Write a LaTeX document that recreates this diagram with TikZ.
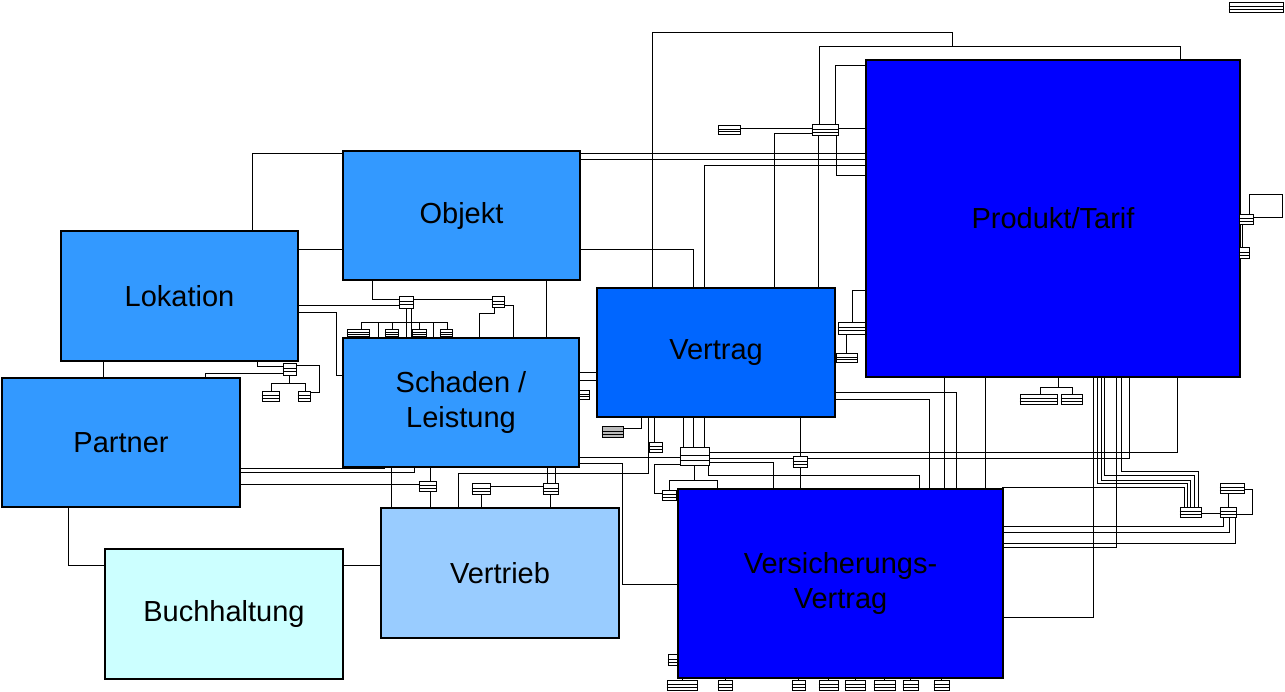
\documentclass[tikz,border=0pt]{standalone}
\usepackage{fontspec}
\setmainfont{Liberation Sans}
\usetikzlibrary{fit,calc}
\pgfdeclarelayer{bg}
\pgfsetlayers{bg,main}
\definecolor{cObj}{HTML}{3399FF}
\definecolor{cVer}{HTML}{0066FF}
\definecolor{cPro}{HTML}{0000FF}
\definecolor{cVtb}{HTML}{99CCFF}
\definecolor{cBuh}{HTML}{CCFFFF}
\definecolor{cGray}{HTML}{BBBBBB}
\tikzset{
  mainbox/.style={draw=black, line width=2pt, inner sep=0pt, anchor=north west, align=center, font=\fontsize{29}{35}\selectfont},
  conn/.style={draw=black, line width=0.9pt},
  clsbox/.style={draw=black, fill=white, line width=0.9pt, inner sep=0pt},
  clsline/.style={draw=black, line width=0.7pt},
}
\newcommand{\clsbx}[6][white]{%
  \node[clsbox, fill=#1, fit={(#3,#4)(#5,#6)}] (#2) {};
  \draw[clsline] ($(#2.north west)!0.45!(#2.south west)$) -- ($(#2.north east)!0.45!(#2.south east)$);
  \draw[clsline] ($(#2.north west)!0.72!(#2.south west)$) -- ($(#2.north east)!0.72!(#2.south east)$);
}
\begin{document}
\begin{tikzpicture}[x=1pt,y=-1pt]
\useasboundingbox (0,0) rectangle (1285,691);

% ---------- main boxes ----------
\node[mainbox, fill=cObj, minimum width=237pt, minimum height=130pt] (lok) at (60,230) {Lokation};
\node[mainbox, fill=cObj, minimum width=237pt, minimum height=129pt] (obj) at (342,150) {Objekt};
\node[mainbox, fill=cObj, minimum width=238pt, minimum height=129pt] (par) at (1,377) {Partner};
\node[mainbox, fill=cObj, minimum width=236pt, minimum height=129pt] (sch) at (342,337) {Schaden /\\Leistung};
\node[mainbox, fill=cVer, minimum width=238pt, minimum height=129pt] (ver) at (596,287) {Vertrag};
\node[mainbox, fill=cPro, minimum width=374pt, minimum height=317pt] (pro) at (865,59) {Produkt/Tarif};
\node[mainbox, fill=cPro, minimum width=325pt, minimum height=189pt] (vv) at (677,488) {Versicherungs-\\Vertrag};
\node[mainbox, fill=cVtb, minimum width=238pt, minimum height=130pt] (vtb) at (380,507) {Vertrieb};
\node[mainbox, fill=cBuh, minimum width=238pt, minimum height=130pt] (buh) at (104,548) {Buchhaltung};

% ---------- connectors ----------
\begin{pgfonlayer}{bg}
\draw[conn] (103,360) -- (103,377);
\draw[conn] (68,506) |- (104,565);
\draw[conn] (342,565) -- (380,565);
\draw[conn] (252,230) |- (342,153);
\draw[conn] (297,249) -- (342,249);
\draw[conn] (546,279) -- (546,337);
\draw[conn] (579,153) -- (865,153);
\draw[conn] (579,159) -- (865,159);
\draw[conn] (704,287) |- (865,165);
\draw[conn] (579,249) -| (693,287);
\draw[conn] (652,287) |- (952,32) -- (952,46);
\draw[conn] (819,124) |- (1180,46) -- (1180,59);
\draw[conn] (835,124) |- (865,65);
\draw[conn] (740,128) -- (812,128);
\draw[conn] (838,128) -- (865,128);
\draw[conn] (812,133) -| (774,287);
\draw[conn] (818,135) -- (818,287);
\draw[conn] (836,135) |- (865,175);
% Objekt / Schaden gap
\draw[conn] (372,279) |- (399,299);
\draw[conn] (297,305) -- (399,305);
\draw[conn] (413,299) -- (492,299);
\draw[conn] (406,308) -- (406,337);
\draw[conn] (411,308) -- (411,337);
\draw[conn] (361,322) -- (447,322);
\foreach \xx in {361,392,419,447} \draw[conn] (\xx,322) -- (\xx,329);
\draw[conn] (378,322) -- (378,337);
\draw[conn] (433,322) -- (433,337);
\draw[conn] (494,307) |- (479,313) -- (479,337);
\draw[conn] (504,305) -| (513,337);
% Lokation / Partner
\draw[conn] (257,360) |- (283,366);
\draw[conn] (205,377) |- (283,373);
\draw[conn] (296,365) -| (319,392) -- (310,392);
\draw[conn] (289,375) -- (289,383);
\draw[conn] (271,391) |- (305,383) -- (305,391);
\draw[conn] (297,312) -| (336,375) -- (342,375);
% Partner / Schaden / Vertrieb
\draw[conn] (239,468) -| (384,466);
\draw[conn] (239,472) -| (414,466);
\draw[conn] (239,484) -- (419,484);
\draw[conn] (430,466) -- (430,507);
\draw[conn] (391,466) -- (391,507);
\draw[conn] (481,494) -- (481,507);
\draw[conn] (490,486) -- (543,486);
\draw[conn] (547,466) -- (547,483);
\draw[conn] (555,466) -- (555,483);
\draw[conn] (550,494) -- (550,507);
\draw[conn] (458,507) |- (648,473) -- (648,416);
\draw[conn] (578,463) -| (622,584) -- (677,584);
\draw[conn] (578,457) -- (680,457);
\draw[conn] (680,464) -| (654,493) -- (662,493);
\foreach \xx in {683,693,704} \draw[conn] (\xx,416) -- (\xx,447);
\draw[conn] (694,465) -- (694,480);
\draw[conn] (669,490) |- (717,480) -- (717,488);
\draw[conn] (709,452) -| (1177,376);
\draw[conn] (709,458) -| (1129,376);
\draw[conn] (709,462) -| (773,488);
\draw[conn] (708,465) |- (919,475) -- (919,488);
\draw[conn] (654,416) -- (654,442);
\draw[conn] (623,428) -| (641,416);
\draw[conn] (800,416) -- (800,488);
\draw[conn] (852,322) |- (865,290);
\draw[conn] (846,334) -- (846,353);
\draw[conn] (834,392) -| (956,488);
\draw[conn] (834,399) -| (929,488);
\draw[conn] (944,376) -- (944,488);
\draw[conn] (985,376) -- (985,488);
\draw[conn] (578,372) -- (596,372);
\draw[conn] (578,380) -- (596,380);
% Produkt bottom / right
\draw[conn] (1058,376) -- (1058,387);
\draw[conn] (1040,394) |- (1072,387) -- (1072,394);
\draw[conn] (1093,376) |- (1002,617);
\draw[conn] (1097,376) |- (1187,483) -- (1187,507);
\draw[conn] (1101,376) |- (1190,480) -- (1190,507);
\draw[conn] (1104,376) |- (1194,475) -- (1194,507);
\draw[conn] (1121,376) |- (1198,471) -- (1198,507);
\draw[conn] (1002,487) -| (1184,507);
\draw[conn] (1201,513) -- (1220,513);
\draw[conn] (1228,493) -- (1228,507);
\draw[conn] (1244,489) -| (1252,514) -- (1236,514);
\draw[conn] (1223,517) |- (1002,526);
\draw[conn] (1229,517) |- (1002,532);
\draw[conn] (1235,517) |- (1002,543);
\draw[conn] (1116,376) |- (1002,547);
\draw[conn] (1249,214) |- (1282,194) |- (1253,217);
\draw[conn] (1242,224) -- (1242,247);
% ticks below Versicherungs-Vertrag
\foreach \xx in {682,725,798,828,855,884,910,941} \draw[conn] (\xx,677) -- (\xx,680);
\end{pgfonlayer}

% ---------- class boxes ----------
\clsbx{c1}{812}{124}{838}{135}
\clsbx{c2}{718}{125}{740}{134}
\clsbx{c3}{399}{296}{413}{308}
\clsbx{c4}{492}{296}{504}{307}
\clsbx{s1}{347}{329}{369}{336}
\clsbx{s2}{385}{329}{398}{336}
\clsbx{s3}{412}{329}{426}{336}
\clsbx{s4}{440}{329}{452}{336}
\clsbx{c5}{283}{363}{296}{375}
\clsbx{s5}{262}{391}{279}{401}
\clsbx{s6}{298}{391}{310}{401}
\clsbx{c6}{419}{481}{436}{491}
\clsbx{c7}{472}{483}{490}{494}
\clsbx{c8}{543}{483}{558}{494}
\clsbx{c12}{680}{447}{709}{465}
\clsbx{c13}{662}{490}{676}{500}
\clsbx{c14}{649}{442}{662}{452}
\clsbx[cGray]{c15}{602}{426}{623}{437}
\clsbx{c16}{793}{456}{807}{467}
\clsbx{c19}{838}{322}{865}{334}
\clsbx{c20}{836}{353}{857}{362}
\clsbx{p1}{1020}{394}{1057}{404}
\clsbx{p2}{1061}{394}{1082}{404}
\clsbx{c9}{1180}{507}{1201}{517}
\clsbx{c10}{1220}{507}{1236}{517}
\clsbx{c11}{1220}{483}{1244}{493}
\clsbx{c17}{1239}{214}{1253}{224}
\clsbx{c18}{1239}{247}{1249}{258}
\clsbx{s7}{579}{390}{589}{399}
\clsbx{bl}{668}{654}{677}{665}
\clsbx{b1}{667}{680}{697}{690}
\clsbx{b2}{718}{680}{732}{690}
\clsbx{b3}{792}{680}{805}{690}
\clsbx{b4}{819}{680}{838}{690}
\clsbx{b5}{845}{680}{865}{690}
\clsbx{b6}{874}{680}{895}{690}
\clsbx{b7}{903}{680}{918}{690}
\clsbx{b8}{934}{680}{949}{690}
\clsbx{legend}{1229}{2}{1283}{12}
\end{tikzpicture}
\end{document}
